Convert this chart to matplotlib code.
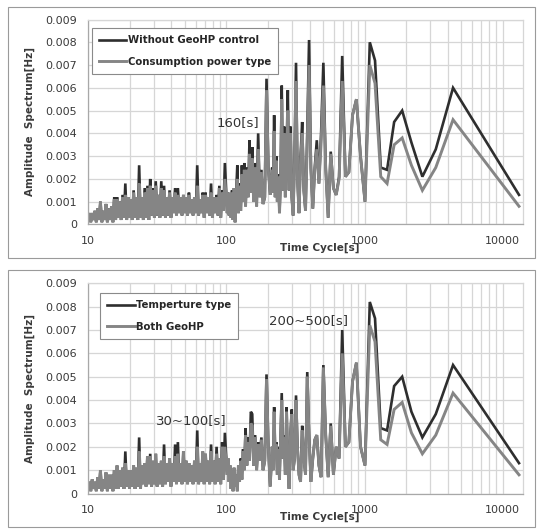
import matplotlib
matplotlib.use("Agg")
import matplotlib.pyplot as plt
from matplotlib.patches import Rectangle
from matplotlib.ticker import FixedLocator, NullFormatter

plt.rcParams['font.family'] = ['DejaVu Sans']

SCALE = 1e-4  # values below are in units of 0.0001 Hz

# ---- periods [s] ----
P_LOW = [10.00, 10.23, 10.47, 10.72, 10.96, 11.22, 11.48, 11.75, 12.02, 12.30,
         12.59, 12.88, 13.18, 13.49, 13.80, 14.13, 14.45, 14.79, 15.14, 15.49,
         15.85, 16.22, 16.60, 16.98, 17.38, 17.78, 18.20, 18.62, 19.05, 19.50,
         19.95, 20.42, 20.89, 21.38, 21.88, 22.39, 22.91, 23.44, 23.99, 24.55,
         25.12, 25.70, 26.30, 26.92, 27.54, 28.18, 28.84, 29.51, 30.20, 30.90,
         31.62, 32.36, 33.11, 33.88, 34.67, 35.48, 36.31, 37.15, 38.02, 38.90,
         39.81, 40.74, 41.69, 42.66, 43.65, 44.67, 45.71, 46.77, 47.86, 48.98,
         50.12, 51.29, 52.48, 53.70, 54.95, 56.23, 57.54, 58.88, 60.26, 61.66,
         63.10, 64.57, 66.07, 67.61, 69.18, 70.79, 72.44, 74.13, 75.86, 77.62,
         79.43, 81.28, 83.18, 85.11, 87.10, 89.13, 91.20, 93.33, 95.50, 97.72]
P_MID = [101.6, 103.1, 104.8, 106.5, 108.3, 110.1, 112.0, 113.9, 115.9, 118.0,
         120.2, 122.4, 124.8, 127.2, 129.7, 132.3, 135.1, 137.9, 140.9, 144.0,
         147.2, 150.6, 154.1, 157.8, 161.7, 165.8, 170.1, 174.7, 179.5, 184.5,
         189.9, 195.5, 201.5, 207.9, 214.8]
P_HIGH = [218.3, 222.0, 225.9, 229.8, 233.9, 238.2, 242.6, 247.2, 251.9, 256.9,
          262.0, 267.3, 272.9, 278.7, 284.8, 291.1, 297.7, 304.7, 311.9, 319.5,
          327.5, 335.9, 344.7, 354.1, 363.9, 374.3, 385.3, 397.0, 409.4, 422.6,
          436.7, 451.7, 467.9, 485.2, 503.8, 524.0, 545.8, 569.6, 595.5, 623.8,
          655.0, 689.5, 727.8, 770.6, 818.8, 873.3, 935.7, 1007.7, 1091.7, 1190.9,
          1310.0, 1455.6, 1637.5, 1871.4, 2183.3, 2620.0, 3275.0, 4366.7, 13100.0]

# ---- top panel ----
top_ctrl_low = [2, 5, 1, 5, 2, 6, 1, 7, 2, 10, 1, 6, 2, 9, 1, 7, 2, 8, 1, 12,
                2, 12, 3, 10, 2, 13, 3, 18, 2, 12, 3, 11, 2, 15, 3, 12, 2, 26, 3, 12,
                2, 16, 3, 17, 2, 20, 4, 16, 3, 19, 4, 13, 3, 19, 4, 17, 3, 12, 4, 15,
                3, 12, 5, 16, 4, 16, 5, 12, 4, 13, 5, 12, 4, 14, 5, 11, 4, 12, 5, 26,
                4, 11, 5, 14, 3, 14, 5, 12, 4, 18, 3, 12, 5, 13, 4, 17, 3, 15, 6, 27]
top_power_low = [2, 5, 1, 5, 2, 6, 1, 7, 2, 10, 1, 6, 2, 9, 1, 7, 2, 8, 1, 11,
                 2, 11, 3, 10, 2, 12, 3, 13, 2, 12, 3, 11, 2, 14, 3, 12, 2, 18, 3, 12,
                 2, 14, 3, 16, 2, 17, 4, 15, 3, 17, 4, 13, 3, 16, 4, 15, 3, 12, 4, 14,
                 3, 12, 5, 14, 4, 13, 5, 12, 4, 13, 5, 12, 4, 13, 5, 11, 4, 12, 5, 17,
                 4, 11, 5, 13, 3, 13, 5, 12, 4, 14, 3, 12, 5, 12, 4, 16, 3, 14, 6, 20]
top_ctrl_mid = [5, 14, 4, 12, 3, 15, 2, 16, 1, 14, 26, 5, 18, 6, 26, 10, 27, 8, 25, 12,
                37, 14, 34, 10, 27, 8, 40, 12, 24, 9, 12, 64, 25, 13, 25]
top_power_mid = [5, 14, 4, 12, 3, 14, 2, 16, 1, 14, 20, 5, 17, 6, 22, 10, 24, 8, 24, 12,
                 31, 14, 29, 10, 25, 8, 33, 12, 23, 9, 12, 59, 24, 13, 24]
top_ctrl_high = [15, 48, 12, 30, 10, 22, 5, 20, 61, 15, 43, 12, 30, 59, 15, 43, 12, 4, 30, 71,
                 20, 5, 30, 45, 15, 6, 40, 81, 25, 7, 25, 37, 18, 40, 71, 25, 3, 32, 16, 13,
                 21, 74, 21, 23, 48, 55, 30, 10, 80, 72, 25, 24, 45, 50, 36, 21, 33, 60, 13]
top_power_high = [14, 41, 12, 28, 10, 21, 5, 19, 55, 15, 40, 12, 28, 50, 15, 40, 12, 4, 28, 63,
                  19, 5, 28, 40, 15, 6, 36, 70, 24, 7, 24, 33, 18, 36, 61, 24, 3, 31, 16, 13,
                  20, 63, 21, 23, 48, 55, 30, 10, 70, 62, 21, 18, 35, 38, 26, 15, 25, 46, 8]

# ---- bottom panel ----
bot_temp_low = [2, 5, 1, 6, 2, 5, 1, 7, 2, 10, 1, 6, 2, 9, 1, 8, 2, 8, 1, 10,
                2, 12, 2, 10, 3, 11, 2, 18, 3, 10, 2, 10, 3, 12, 2, 11, 3, 24, 2, 12,
                4, 13, 3, 16, 4, 17, 3, 14, 4, 17, 3, 13, 4, 14, 3, 21, 4, 13, 5, 15,
                3, 13, 5, 21, 4, 22, 5, 13, 4, 18, 5, 14, 4, 13, 5, 12, 4, 14, 5, 27,
                4, 13, 5, 18, 4, 17, 5, 14, 4, 21, 5, 14, 4, 20, 5, 15, 4, 22, 6, 26]
bot_both_low = [2, 5, 1, 6, 2, 5, 1, 7, 2, 10, 1, 6, 2, 9, 1, 8, 2, 8, 1, 10,
                2, 12, 2, 10, 3, 11, 2, 13, 3, 10, 2, 10, 3, 12, 2, 11, 3, 18, 2, 12,
                4, 13, 3, 16, 4, 16, 3, 14, 4, 17, 3, 13, 4, 14, 3, 16, 4, 13, 5, 15,
                3, 13, 5, 16, 4, 17, 5, 13, 4, 18, 5, 14, 4, 13, 5, 12, 4, 14, 5, 20,
                4, 13, 5, 18, 4, 17, 5, 14, 4, 18, 5, 14, 4, 17, 5, 15, 4, 20, 6, 20]
bot_temp_mid = [8, 15, 5, 12, 2, 10, 1, 11, 3, 8, 1, 12, 5, 15, 6, 19, 10, 28, 12, 24,
                14, 35, 34, 12, 25, 10, 22, 14, 24, 10, 14, 51, 20, 3, 20]
bot_both_mid = [8, 15, 5, 12, 2, 10, 1, 11, 3, 8, 1, 12, 5, 14, 6, 18, 10, 25, 12, 22,
                14, 30, 29, 12, 24, 10, 21, 14, 23, 10, 14, 49, 20, 3, 20]
bot_temp_high = [10, 37, 15, 22, 8, 20, 6, 25, 43, 15, 25, 8, 37, 12, 2, 25, 36, 10, 15, 42,
                 20, 8, 5, 29, 15, 8, 52, 25, 5, 15, 23, 25, 12, 7, 55, 25, 7, 30, 8, 20,
                 15, 70, 20, 22, 48, 56, 20, 12, 82, 75, 28, 27, 46, 50, 35, 24, 34, 55, 13]
bot_both_high = [10, 35, 15, 21, 8, 19, 6, 24, 40, 15, 24, 8, 35, 12, 2, 24, 34, 10, 15, 40,
                 19, 8, 5, 27, 15, 8, 50, 24, 5, 15, 23, 25, 12, 7, 54, 25, 7, 29, 8, 20,
                 15, 60, 20, 22, 48, 56, 20, 12, 72, 65, 23, 21, 36, 39, 26, 17, 25, 43, 8]

PERIODS = P_LOW + P_MID + P_HIGH

panels = [
    dict(series=[("Without GeoHP control", top_ctrl_low + top_ctrl_mid + top_ctrl_high),
                 ("Consumption power type", top_power_low + top_power_mid + top_power_high)],
         ax_px=(88, 19.5, 523, 224.5), box_px=(8, 7, 535, 258),
         leg_anchor=(0.009, 0.958),
         notes=[("160[s]", 238, 123)], xlabel_y=248),
    dict(series=[("Temperture type", bot_temp_low + bot_temp_mid + bot_temp_high),
                 ("Both GeoHP", bot_both_low + bot_both_mid + bot_both_high)],
         ax_px=(88, 283.3, 523, 493.5), box_px=(8, 270, 535, 527),
         leg_anchor=(0.028, 0.954),
         notes=[("30~100[s]", 191, 421), ("200~500[s]", 308, 321)], xlabel_y=517),
]

W, H = 541, 529
fig = plt.figure(figsize=(W / 100, H / 100), dpi=100)
COLORS = ["#2e2e2e", "#858585"]
WIDTHS = [1.9, 2.1]
TXT = "#3a3a3a"

for p in panels:
    x0, y0, x1, y1 = p["box_px"]
    fig.patches.append(Rectangle((x0 / W, 1 - y1 / H), (x1 - x0) / W, (y1 - y0) / H,
                                 transform=fig.transFigure, fill=False,
                                 edgecolor="#9a9a9a", linewidth=0.8))
    l, t, r, b = p["ax_px"]
    ax = fig.add_axes([l / W, 1 - b / H, (r - l) / W, (b - t) / H])
    for (lab, vals), c, lw in zip(p["series"], COLORS, WIDTHS):
        ax.plot(PERIODS, [v * SCALE for v in vals], color=c, lw=lw, label=lab,
                solid_joinstyle="miter")
    ax.set_xscale("log")
    ax.set_xlim(10, 14000)
    ax.set_ylim(0, 0.009)
    ax.set_xticks([10, 100, 1000, 10000])
    ax.set_xticklabels(["10", "100", "1000", "10000"])
    ax.xaxis.set_minor_locator(FixedLocator([m * 10 ** d for d in range(1, 5)
                                             for m in range(2, 10)]))
    ax.xaxis.set_minor_formatter(NullFormatter())
    yt = [i * 0.001 for i in range(10)]
    ax.set_yticks(yt)
    ax.set_yticklabels(["0"] + ["%.3f" % v for v in yt[1:]])
    ax.grid(True, which="both", axis="x", color="#d6d6d6", lw=0.9)
    ax.grid(True, which="major", axis="y", color="#d6d6d6", lw=0.9)
    ax.set_axisbelow(True)
    ax.tick_params(which="both", length=0)
    ax.tick_params(axis="y", pad=8, labelsize=8, labelcolor=TXT)
    ax.tick_params(axis="x", pad=8, labelsize=8, labelcolor=TXT)
    for s in ax.spines.values():
        s.set_color("#d6d6d6")
        s.set_linewidth(0.9)
    ax.spines["left"].set_color("#a8a8a8")
    ax.spines["bottom"].set_color("#a8a8a8")
    leg = ax.legend(loc="upper left", bbox_to_anchor=p["leg_anchor"], borderaxespad=0,
                    fancybox=False, edgecolor="#8a8a8a", framealpha=1,
                    prop=dict(size=7.3, weight="bold"), handlelength=2.7,
                    handletextpad=0.15, labelspacing=1.15, borderpad=0.7)
    leg.get_frame().set_linewidth(0.8)
    for txt in leg.get_texts():
        txt.set_color("#262626")
    for txt, x, y in p["notes"]:
        fig.text(x / W, 1 - y / H, txt, ha="center", va="center", fontsize=9.5,
                 color="#333333")
    fig.text(320 / W, 1 - p["xlabel_y"] / H, "Time Cycle[s]", ha="center", va="center",
             fontsize=7.5, fontweight="bold", color=TXT)
    fig.text(30 / W, 1 - ((t + b) / 2) / H, "Amplitude  Spectrum[Hz]", ha="center",
             va="center", rotation=90, fontsize=7.5, fontweight="bold", color=TXT)

fig.savefig("out.png", dpi=100)
